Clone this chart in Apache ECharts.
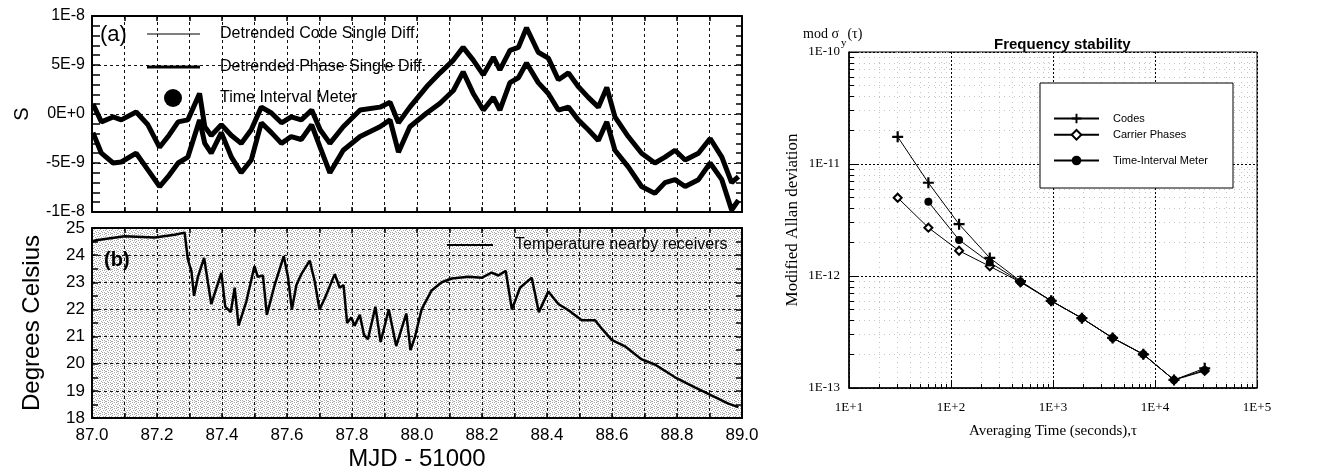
<!DOCTYPE html>
<html>
<head>
<meta charset="utf-8">
<script src="https://cdn.jsdelivr.net/npm/echarts@6/dist/echarts.min.js"></script>
<style>html,body{margin:0;padding:0;background:#fff}#c{width:1323px;height:472px}</style>
</head>
<body>
<div id="c"></div>
<script>
// ---------- Panel (a): detrended single differences (values in units of 1E-9 s) ----------
const mjdA = [87.003,87.029,87.065,87.090,87.136,87.172,87.208,87.234,87.265,87.295,87.331,87.347,87.367,87.398,87.429,87.459,87.490,87.521,87.552,87.583,87.613,87.644,
  87.676,87.702,87.732,87.773,87.825,87.886,87.917,87.943,87.978,88.030,88.071,88.112,88.142,88.173,88.204,88.235,88.255,88.286,88.312,
  88.337,88.373,88.404,88.435,88.466,88.496,88.527,88.558,88.584,88.609,88.650,88.691,88.732,88.763,88.794,88.825,88.866,88.902,88.938,88.968,88.989];
const codeDiffNs = [1.0,-0.8,-0.3,-0.6,0.2,-1.1,-3.4,-2.3,-0.8,-0.6,2.1,-1.3,-2.2,-1.1,-2.2,-3.0,-1.6,0.7,0.1,-0.9,-0.3,-0.6,
  0.4,-1.6,-3.0,-1.3,0.4,0.7,1.2,-0.9,0.7,2.8,4.2,5.5,6.8,5.5,4.0,5.8,4.5,6.5,6.8,
  8.8,6.3,5.7,3.5,4.2,2.8,1.7,0.7,2.7,-0.3,-2.3,-4.0,-5.0,-4.4,-3.7,-4.7,-4.0,-2.5,-4.4,-7.0,-6.4];
const phaseDiffNs = [-1.9,-4.0,-5.0,-4.9,-4.0,-5.7,-7.4,-6.4,-5.0,-4.4,-0.6,-3.0,-4.0,-1.9,-4.4,-6.0,-4.7,-0.9,-1.9,-3.0,-2.3,-2.6,
  -1.1,-3.4,-6.0,-3.7,-2.3,-1.3,-0.6,-3.9,-1.3,0.1,1.1,2.4,4.3,2.1,0.4,1.7,0.4,3.2,3.7,
  5.2,3.2,2.1,0.4,0.7,-0.6,-1.6,-2.7,-0.8,-3.7,-5.4,-7.4,-8.1,-7.0,-6.7,-7.4,-6.7,-5.0,-6.7,-9.8,-8.8];
const timeIntervalMeter = [];

// ---------- Panel (b): temperature ----------
const mjdB = [87.003,87.013,87.100,87.193,87.254,87.285,87.295,87.306,87.314,87.326,87.345,87.367,87.398,87.410,87.427,87.439,87.451,87.475,
  87.500,87.510,87.526,87.538,87.562,87.590,87.603,87.615,87.629,87.644,87.670,87.685,87.700,87.716,87.747,87.762,87.774,87.785,87.798,
  87.808,87.824,87.837,87.849,87.872,87.888,87.913,87.936,87.967,87.980,87.994,88.014,88.045,88.076,88.107,88.158,88.200,88.230,88.250,
  88.273,88.292,88.317,88.353,88.375,88.404,88.435,88.466,88.507,88.548,88.568,88.599,88.640,88.691,88.732,88.794,88.855,88.917,88.958,88.989];
const temperature = [24.5,24.55,24.7,24.65,24.75,24.83,23.84,23.4,22.5,23.2,23.9,22.2,23.35,22.1,21.9,22.8,21.4,22.3,
  23.6,23.2,23.25,21.8,22.9,23.96,23.2,22.0,22.9,23.3,23.8,23.05,22.0,22.4,23.3,22.8,22.9,21.5,21.7,
  21.4,21.8,21.06,20.9,22.1,20.8,22.0,20.65,21.85,20.5,21.0,22.0,22.7,23.0,23.14,23.2,23.17,23.36,23.25,
  23.42,22.0,22.8,23.17,21.9,22.66,22.2,21.97,21.6,21.6,21.3,20.88,20.64,20.16,19.97,19.5,19.13,18.77,18.53,18.4];

// ---------- Right panel: modified Allan deviation ----------
const tau = [30,60,120,240,480,960,1920,3840,7680,15360,30720];
const adevCodes = [1.75e-11,6.8e-12,2.9e-12,1.45e-12,9.0e-13,6.0e-13,4.2e-13,2.8e-13,2.0e-13,1.18e-13,1.5e-13];
const adevCarrier = [5.0e-12,2.7e-12,1.68e-12,1.22e-12,8.8e-13,6.0e-13,4.2e-13,2.8e-13,2.0e-13,1.18e-13,1.42e-13];
const adevTIM = [null,4.6e-12,2.1e-12,1.32e-12,8.9e-13,6.0e-13,4.2e-13,2.8e-13,2.0e-13,1.18e-13,1.45e-13];

// ---------- styling helpers ----------
const SANS = "'Liberation Sans', Arial, sans-serif";
const SERIF = "'Liberation Serif', 'Times New Roman', serif";
const pc = document.createElement('canvas'); pc.width = 6; pc.height = 6;
const pg = pc.getContext('2d'); pg.fillStyle = '#fff'; pg.fillRect(0,0,6,6); pg.fillStyle = '#a8a8a8';
[[0,0],[2,0],[4,1],[1,2],[3,2],[5,3],[0,4],[2,4],[4,5],[3,5]].forEach(p => pg.fillRect(p[0], p[1], 1, 1));
const stipple = { image: pc, repeat: 'repeat' };

const dash = { color: '#111', width: 1, type: [3, 3] };
const line2 = { show: true, onZero: false, lineStyle: { color: '#000', width: 2 } };
function pairs(xs, ys) { const out = []; xs.forEach((x, i) => { if (ys[i] != null) out.push([x, ys[i]]); }); return out; }
function pow10Label(v) { const e = Math.round(Math.log10(v)); return '1E' + (e >= 0 ? '+' : '-') + Math.abs(e); }
const minorLog = (a, b) => { const o = []; for (let d = a; d < b; d++) for (let k = 2; k <= 9; k++) o.push(d + Math.log10(k)); return o; };

const mjdAxisBase = (grid, pos, labels) => ({
  type: 'value', gridIndex: grid, position: pos, min: 87, max: 89, interval: 0.2,
  axisLine: line2,
  axisTick: { show: true, inside: true, length: 5, lineStyle: { color: '#000', width: 1.5 } },
  minorTick: { show: true, splitNumber: 2, length: 5, lineStyle: { color: '#000', width: 1.5 } },
  splitLine: { show: pos === 'bottom', lineStyle: dash },
  minorSplitLine: { show: pos === 'bottom', lineStyle: dash },
  axisLabel: labels ? { show: true, margin: 9, color: '#000', fontFamily: SANS, fontSize: 17, formatter: v => v.toFixed(1) } : { show: false }
});

const option = {
  animation: false,
  backgroundColor: '#fff',
  grid: [
    { left: 92, top: 16, width: 650, height: 196, show: false },
    { left: 92, top: 228, width: 650, height: 193, show: true, backgroundColor: stipple, borderWidth: 0 },
    { left: 849, top: 52, width: 408, height: 336, show: true, borderColor: '#000', borderWidth: 1, backgroundColor: 'transparent' }
  ],
  title: [
    { text: '(a)', left: 95, top: 19, textStyle: { fontFamily: SANS, fontSize: 22, fontWeight: 'normal', color: '#000' } },
    { text: '(b)', left: 99, top: 245, textStyle: { fontFamily: SANS, fontSize: 20, fontWeight: 'bold', color: '#000' } },
    { text: 'Frequency stability', left: 989, top: 32, textStyle: { fontFamily: SANS, fontSize: 15, fontWeight: 'bold', color: '#000' } },
    { text: '{a|mod σ}{s|y}{a|(τ)}', left: 798, top: 22, textStyle: { fontWeight: 'normal', rich: {
        a: { fontFamily: SERIF, fontSize: 14, fontWeight: 'normal', color: '#000', lineHeight: 22, verticalAlign: 'top' },
        s: { fontFamily: SERIF, fontSize: 11, fontWeight: 'normal', color: '#000', lineHeight: 22, verticalAlign: 'bottom', padding: [0, 1, 0, 2] } } } }
  ],
  legend: [
    { data: [{ name: 'Detrended Code Single Diff.', icon: 'rect' }], left: 147, top: 26, itemWidth: 53, itemHeight: 1, padding: 0, selectedMode: false,
      textStyle: { fontFamily: SANS, fontSize: 16, color: '#000', padding: [0, 0, 0, 15] } },
    { data: [{ name: 'Detrended Phase Single Diff.', icon: 'rect' }], left: 147, top: 59, itemWidth: 53, itemHeight: 3, padding: 0, selectedMode: false,
      textStyle: { fontFamily: SANS, fontSize: 16, color: '#000', padding: [0, 0, 0, 15] } },
    { data: [{ name: 'Time Interval Meter', icon: 'circle' }], left: 164, top: 89, itemWidth: 18, itemHeight: 18, padding: 0, selectedMode: false,
      textStyle: { fontFamily: SANS, fontSize: 16, color: '#000', padding: [0, 0, 0, 33] } },
    { data: [{ name: 'Temperature nearby receivers', icon: 'rect' }], left: 447, top: 237, itemWidth: 46, itemHeight: 2, padding: [0, 4, 0, 0],
      selectedMode: false,
      textStyle: { fontFamily: SANS, fontSize: 16, color: '#000', padding: [0, 0, 0, 17] } },
    { data: ['Codes'], left: 1053, top: 113, itemWidth: 45, itemHeight: 12, padding: 0, selectedMode: false,
      textStyle: { fontFamily: SANS, fontSize: 11, color: '#000', padding: [0, 0, 0, 9] } },
    { data: ['Carrier Phases'], left: 1053, top: 129, itemWidth: 45, itemHeight: 12, padding: 0, selectedMode: false,
      textStyle: { fontFamily: SANS, fontSize: 11, color: '#000', padding: [0, 0, 0, 9] } },
    { data: ['Time-Interval Meter'], left: 1053, top: 155, itemWidth: 45, itemHeight: 12, padding: 0, selectedMode: false,
      textStyle: { fontFamily: SANS, fontSize: 11, color: '#000', padding: [0, 0, 0, 9] } }
  ],
  graphic: [
    { type: 'rect', z: 1, shape: { x: 1040, y: 83, width: 193, height: 105 }, style: { fill: '#fff', stroke: '#000', lineWidth: 1 } }
  ],
  xAxis: [
    mjdAxisBase(0, 'bottom', false),
    mjdAxisBase(0, 'top', false),
    Object.assign(mjdAxisBase(1, 'bottom', true), { name: 'MJD - 51000', nameLocation: 'middle', nameGap: 29,
      nameTextStyle: { fontFamily: SANS, fontSize: 24, color: '#000' } }),
    mjdAxisBase(1, 'top', false),
    { type: 'log', gridIndex: 2, position: 'bottom', min: 10, max: 100000, logBase: 10,
      axisLine: { show: true, onZero: false, lineStyle: { color: '#000', width: 1.5 } },
      axisTick: { show: true, inside: true, length: 6, lineStyle: { color: '#000' } },
      axisLabel: { margin: 13, color: '#000', fontFamily: SERIF, fontSize: 13, formatter: pow10Label },
      splitLine: { show: true, lineStyle: { color: '#000', width: 1, type: [2, 2] } },
      name: 'Averaging Time (seconds),τ', nameLocation: 'middle', nameGap: 36,
      nameTextStyle: { fontFamily: SERIF, fontSize: 15, color: '#000' } },
    { type: 'value', gridIndex: 2, position: 'bottom', min: 1, max: 5,
      axisLine: { show: false, onZero: false }, axisLabel: { show: false },
      axisTick: { show: true, inside: true, length: 4, customValues: minorLog(1, 5), lineStyle: { color: '#000' } },
      splitLine: { show: true, lineStyle: { color: '#c4c4c4', width: 1, type: [1, 4] } } }
  ],
  yAxis: [
    { type: 'value', gridIndex: 0, position: 'left', min: -10, max: 10, interval: 5,
      axisLine: line2,
      axisTick: { show: true, inside: true, length: 8, lineStyle: { color: '#000', width: 1.5 } },
      minorTick: { show: true, splitNumber: 5, length: 8, lineStyle: { color: '#000', width: 1.5 } },
      splitLine: { show: true, lineStyle: dash },
      axisLabel: { margin: 7, color: '#000', fontFamily: SANS, fontSize: 16, formatter: v => (v * 1e-9).toExponential(0).toUpperCase() },
      name: 'S', nameLocation: 'middle', nameGap: 60, nameRotate: 90,
      nameTextStyle: { fontFamily: SANS, fontSize: 20, color: '#000' } },
    { type: 'value', gridIndex: 0, position: 'right', min: -10, max: 10, interval: 5,
      axisLine: line2,
      axisTick: { show: true, inside: true, length: 6, lineStyle: { color: '#000', width: 1.5 } },
      minorTick: { show: true, splitNumber: 5, length: 6, lineStyle: { color: '#000', width: 1.5 } },
      splitLine: { show: false }, axisLabel: { show: false } },
    { type: 'value', gridIndex: 1, position: 'left', min: 18, max: 25, interval: 1,
      axisLine: line2,
      axisTick: { show: true, inside: true, length: 6, lineStyle: { color: '#000', width: 1.5 } },
      minorTick: { show: true, splitNumber: 2, length: 6, lineStyle: { color: '#000', width: 1.5 } },
      splitLine: { show: true, lineStyle: dash },
      axisLabel: { margin: 7, color: '#000', fontFamily: SANS, fontSize: 17 },
      name: 'Degrees Celsius', nameLocation: 'middle', nameGap: 48, nameRotate: 90,
      nameTextStyle: { fontFamily: SANS, fontSize: 24, color: '#000' } },
    { type: 'value', gridIndex: 1, position: 'right', min: 18, max: 25, interval: 1,
      axisLine: line2,
      axisTick: { show: true, inside: true, length: 6, lineStyle: { color: '#000', width: 1.5 } },
      minorTick: { show: true, splitNumber: 2, length: 6, lineStyle: { color: '#000', width: 1.5 } },
      splitLine: { show: false }, axisLabel: { show: false } },
    { type: 'log', gridIndex: 2, position: 'left', min: 1e-13, max: 1e-10, logBase: 10,
      axisLine: { show: true, onZero: false, lineStyle: { color: '#000', width: 1.5 } },
      axisTick: { show: true, inside: true, length: 8, lineStyle: { color: '#000' } },
      axisLabel: { margin: 9, color: '#000', fontFamily: SERIF, fontSize: 13, formatter: pow10Label },
      splitLine: { show: true, lineStyle: { color: '#000', width: 1, type: [2, 2] } },
      name: 'Modified Allan deviation', nameLocation: 'middle', nameGap: 48, nameRotate: 90,
      nameTextStyle: { fontFamily: SERIF, fontSize: 17, color: '#000' } },
    { type: 'value', gridIndex: 2, position: 'left', min: -13, max: -10,
      axisLine: { show: false, onZero: false }, axisLabel: { show: false },
      axisTick: { show: true, inside: true, length: 5, customValues: minorLog(-13, -10), lineStyle: { color: '#000' } },
      splitLine: { show: true, lineStyle: { color: '#c4c4c4', width: 1, type: [1, 4] } } }
  ],
  series: [
    { name: 'Detrended Code Single Diff.', type: 'line', xAxisIndex: 0, yAxisIndex: 0, data: pairs(mjdA, codeDiffNs),
      symbol: 'none', showSymbol: false, lineStyle: { color: '#000', width: 5 }, itemStyle: { color: '#000' }, z: 3 },
    { name: 'Detrended Phase Single Diff.', type: 'line', xAxisIndex: 0, yAxisIndex: 0, data: pairs(mjdA, phaseDiffNs),
      symbol: 'none', showSymbol: false, lineStyle: { color: '#000', width: 5 }, itemStyle: { color: '#000' }, z: 3 },
    { name: 'Time Interval Meter', type: 'line', xAxisIndex: 0, yAxisIndex: 0, data: timeIntervalMeter,
      symbol: 'circle', symbolSize: 12, itemStyle: { color: '#000' }, lineStyle: { color: '#000' } },
    { name: 'Temperature nearby receivers', type: 'line', xAxisIndex: 2, yAxisIndex: 2, data: pairs(mjdB, temperature),
      symbol: 'none', showSymbol: false, lineStyle: { color: '#000', width: 2.5 }, itemStyle: { color: '#000' }, z: 3 },
    { name: 'Codes', type: 'line', xAxisIndex: 4, yAxisIndex: 4, data: pairs(tau, adevCodes),
      symbol: 'path://M4,0h2v4h4v2h-4v4h-2v-4h-4v-2h4z', symbolSize: 11,
      lineStyle: { color: '#000', width: 1 }, itemStyle: { color: '#000' }, z: 5 },
    { name: 'Carrier Phases', type: 'line', xAxisIndex: 4, yAxisIndex: 4, data: pairs(tau, adevCarrier),
      symbol: 'emptyDiamond', symbolSize: 8,
      lineStyle: { color: '#000', width: 1 }, itemStyle: { color: '#000', borderColor: '#000', borderWidth: 1.5 }, z: 5 },
    { name: 'Time-Interval Meter', type: 'line', xAxisIndex: 4, yAxisIndex: 4, data: pairs(tau, adevTIM),
      symbol: 'circle', symbolSize: 8,
      lineStyle: { color: '#000', width: 1 }, itemStyle: { color: '#000' }, z: 5 }
  ]
};
const chart = echarts.init(document.getElementById('c'), null, { renderer: 'canvas' });
chart.setOption(option);
</script>
</body>
</html>
